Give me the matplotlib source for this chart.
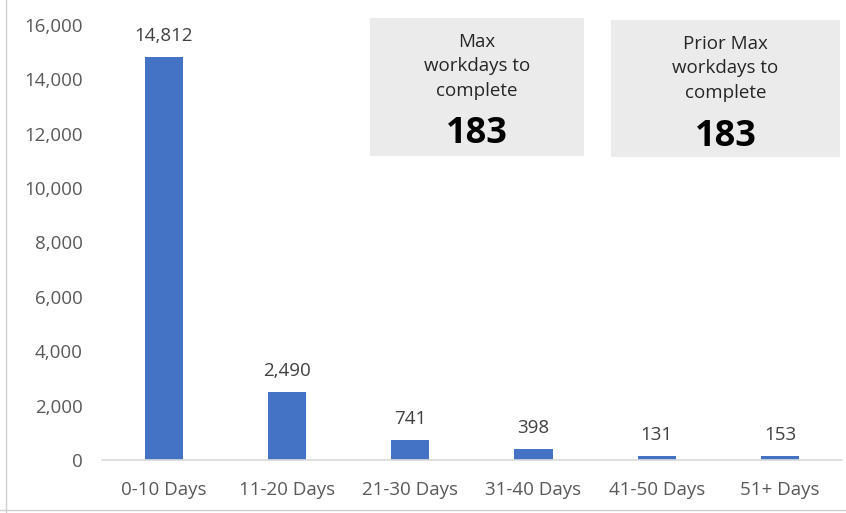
import matplotlib.pyplot as plt
from matplotlib.lines import Line2D
from matplotlib.patches import Rectangle

categories = ['0-10 Days', '11-20 Days', '21-30 Days', '31-40 Days', '41-50 Days', '51+ Days']
counts = [14812, 2490, 741, 398, 131, 153]
yticks = [0, 2000, 4000, 6000, 8000, 10000, 12000, 14000, 16000]
max_days = 183
prior_max_days = 183

plt.rcParams['font.family'] = ['Open Sans', 'DejaVu Sans']

fig = plt.figure(figsize=(8.46, 5.13), dpi=100)
ax = fig.add_axes([0.1206, 0.1033, 0.8744, 0.848])

x = range(len(categories))
ax.bar(x, counts, width=0.31, color='#4472C4', zorder=2)
for xi, v in zip(x, counts):
    ax.text(xi, v + 440, f'{v:,}', ha='center', va='bottom', fontsize=13.5, color='#404040')

ax.set_xlim(-0.5, len(categories) - 0.5)
ax.set_ylim(0, 16000)
ax.set_yticks(yticks)
ax.set_yticklabels([f'{t:,}' for t in yticks])
ax.set_xticks(list(x))
ax.set_xticklabels(categories)
ax.tick_params(length=0, labelsize=13.5, labelcolor='#595959')
ax.tick_params(axis='y', pad=14)
ax.tick_params(axis='x', pad=15)
for s in ['top', 'right', 'left']:
    ax.spines[s].set_visible(False)
ax.spines['bottom'].set_color('#d9d9d9')
ax.spines['bottom'].set_linewidth(1.2)

# info boxes
boxes = [
    (370, 18, 214, 138, 'Max\nworkdays to\ncomplete', max_days, 116),
    (611, 20, 229, 137, 'Prior Max\nworkdays to\ncomplete', prior_max_days, 117),
]
W, H = 846, 513
for bx, by, bw, bh, label, val, vy in boxes:
    fig.add_artist(Rectangle((bx / W, 1 - (by + bh) / H), bw / W, bh / H,
                             transform=fig.transFigure, facecolor='#ebebeb',
                             edgecolor='none', zorder=3))
    cx = (bx + bw / 2) / W
    fig.text(cx, 1 - (by + 15) / H, label, ha='center', va='top', fontsize=13.5,
             color='#262626', linespacing=1.45, zorder=4)
    fig.text(cx, 1 - (by + vy) / H, str(val), ha='center', va='center',
             fontsize=26, fontweight='bold', color='black', zorder=4)

# thin frame around image
fig.add_artist(Line2D([6 / W, 6 / W], [0, 1], color='#d0d0d0', lw=1, transform=fig.transFigure))
fig.add_artist(Line2D([0, 1], [3 / H, 3 / H], color='#d0d0d0', lw=1, transform=fig.transFigure))

fig.savefig('out.png', dpi=100)
